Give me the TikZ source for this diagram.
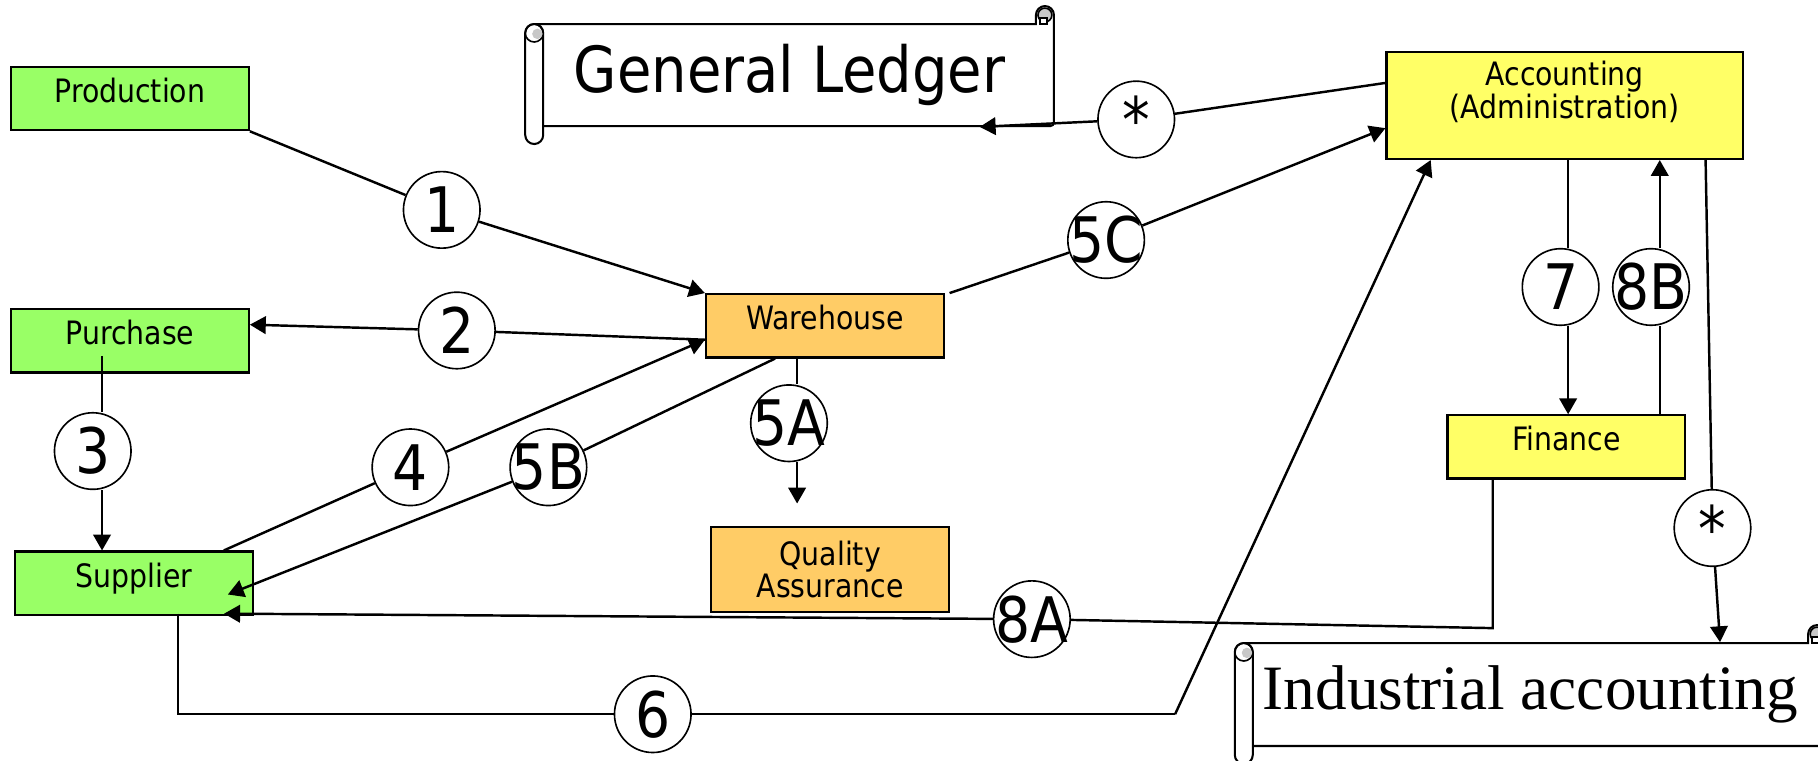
\documentclass[tikz,border=0pt]{standalone}
\usepackage{fontspec}
\setmainfont{DejaVu Sans}[FakeStretch=0.88]
\newfontfamily\scrollserif{Liberation Serif}
\usetikzlibrary{arrows.meta,calc}
\definecolor{deptGreen}{HTML}{99FF66}
\definecolor{deptOrange}{HTML}{FFCC66}
\definecolor{deptYellow}{HTML}{FFFF66}
\definecolor{curlGray}{HTML}{C8C8C8}

% scroll: left x, right x, top y, bottom y (picture units)
\newcommand{\scrollpaper}[4]{%
  \draw[line width=0.5pt,fill=white] ({#1+7.75},#3) -- ({#2-15.5},#3) -- ({#2-15.5},{#3-7.75})
    arc[start angle=180,end angle=0,radius=0.0775cm] -- (#2,{#4-6}) [rounded corners=0.03cm] -- (#2,#4) -- ({#1+15.5},#4);
  \filldraw[fill=curlGray,line width=0.4pt] ({#2-7.75},{#3-7.75}) circle[radius=0.06cm];
  \draw[line width=0.4pt,fill=white] ({#2-12},{#3-5}) rectangle ({#2-6},#3);
  \draw[line width=0.5pt,fill=white,rounded corners=0.0775cm] (#1,#3) rectangle ({#1+15.5},{#4+15.5});
  \draw[line width=0.4pt] ({#1+7.75},{#3+7.75}) circle[radius=0.0775cm];
  \fill[curlGray] ({#1+10.5},{#3+8.5}) circle[radius=0.045cm];
}

\begin{document}
\begin{tikzpicture}[x=0.01cm,y=-0.01cm,
    box/.style={draw,line width=0.55pt,minimum width=2.05cm,minimum height=0.545cm,inner sep=0pt,
      font=\fontsize{7.9}{8}\selectfont},
    one/.style={text height=5.9pt,text depth=4pt},
    gbox/.style={box,one,fill=deptGreen},
    obox/.style={box,fill=deptOrange},
    ybox/.style={box,fill=deptYellow},
    num/.style={circle,draw,line width=0.4pt,fill=white,minimum size=0.66cm,inner sep=0pt,
      label={[font=\fontsize{15.4}{16}\selectfont,inner sep=0pt]center:#1}},
    flow/.style={line width=0.6pt},
    >={Triangle[length=3.9pt,width=4.3pt]}
  ]
  \useasboundingbox (0,0) rectangle (1568,656);
  \clip (0,0) rectangle (1568,656);

  % ledgers
  \scrollpaper{453}{909}{20.7}{108.7}
  \scrollpaper{1065}{1575}{554.6}{643.4}
  \node[minimum width=4.56cm,minimum height=0.88cm,inner sep=0pt,font=\fontsize{15.6}{16}\selectfont] (gl) at (681,64.7) {General Ledger};
  \node[minimum width=5.1cm,minimum height=0.888cm,inner sep=0pt,font=\scrollserif\fontsize{15.5}{16}\selectfont] (ia) at (1320,599) {Industrial accounting};

  % departments
  \node[gbox] (prod) at (112,85) {Production};
  \node[gbox] (purch) at (112,294) {Purchase};
  \node[gbox] (supp) at (115.5,503) {Supplier};
  \node[obox,one] (ware) at (711.5,281) {Warehouse};
  \node[obox,minimum height=0.735cm,align=center] (qa) at (716,491) {Quality\\Assurance};
  \node[ybox,minimum width=3.07cm,minimum height=0.92cm,
    label={[align=center,font=\fontsize{7.9}{8}\selectfont,yshift=3.3pt]center:Accounting\\(Administration)}] (acct) at (1349.5,91) {};
  \node[ybox,one] (fin) at (1351,385.5) {Finance};

  % steps
  \node[num=1] (c1) at (381,181) {};
  \node[num=2] (c2) at (394,285) {};
  \node[num=3] (c3) at (80,389) {};
  \node[num=4] (c4) at (354,403) {};
  \node[num=5B] (c5b) at (473,403) {};
  \node[num=5A] (c5a) at (680.5,365) {};
  \node[num=5C] (c5c) at (954,207) {};
  \node[num=6] (c6) at (563,616) {};
  \node[num=7] (c7) at (1346,247.5) {};
  \node[num=8B] (c8b) at (1424,247.5) {};
  \node[num=8A] (c8a) at (890,534) {};
  \node[num=*] (cs1) at (980,103) {};
  \node[num=*] (cs2) at (1477,455.4) {};

  \coordinate (p3) at ($(purch.center)+(-24,13)$);
  \coordinate (p5a) at ($(ware.south)+(-24,0)$);
  \coordinate (p7) at ($(acct.south)+(3,0)$);
  \coordinate (p8b) at ($(fin.north east)+(-23,0)$);
  \coordinate (k6) at (1013.5,616);
  \coordinate (k8a) at ($(fin.south west)+(40,128)$);

  \draw[flow] (prod.south east) -- (c1);
  \draw[flow,->] (c1) -- (ware.north west);
  \draw[flow] ($(ware.west)+(0,12)$) -- (c2);
  \draw[flow,->] (c2) -- ($(purch.east)+(0,-14)$);
  \draw[flow] (p3) -- (p3 |- c3.north);
  \draw[flow,->] (p3 |- c3.south) -- (p3 |- supp.north);
  \draw[flow] ($(supp.north east)+(-26,0)$) -- (c4);
  \draw[flow,->] (c4) -- ($(ware.west)+(0,12)$);
  \draw[flow] ($(ware.south)+(-43,0)$) -- (c5b);
  \draw[flow,->] (c5b) -- ($(supp.south east)+(-22.5,-18.5)$);
  \draw[flow] (p5a) -- (p5a |- c5a.north);
  \draw[flow,->] (p5a |- c5a.south) -- ($(p5a |- qa.north)+(0,-19)$);
  \draw[flow] ($(ware.north east)+(4,0)$) -- (c5c);
  \draw[flow,->] (c5c) -- ($(acct.west)+(0,19.5)$);
  \draw[flow] ($(acct.west)+(0,-19.5)$) -- (cs1);
  \draw[flow,->] (cs1) -- ($(gl.south)+(164,0)$);
  \draw[flow] ($(supp.south)+(38,-2)$) |- (c6);
  \draw[flow] (c6) -- (k6);
  \draw[flow,->] (k6) -- ($(acct.south west)+(39,0)$);
  \draw[flow] (p7) -- (p7 |- c7.north);
  \draw[flow,->] (p7 |- c7.south) -- (p7 |- fin.north);
  \draw[flow] (p8b) -- (p8b |- c8b.south);
  \draw[flow,->] (p8b |- c8b.north) -- (p8b |- acct.south);
  \draw[flow] ($(fin.south west)+(40,0)$) -- (k8a) -- (c8a);
  \draw[flow,->] (c8a) -- ($(supp.south east)+(-25.7,-2)$);
  \draw[flow] ($(acct.south east)+(-33,0)$) -- (cs2);
  \draw[flow,->] (cs2) -- ($(ia.north)+(163.5,0)$);
\end{tikzpicture}
\end{document}
